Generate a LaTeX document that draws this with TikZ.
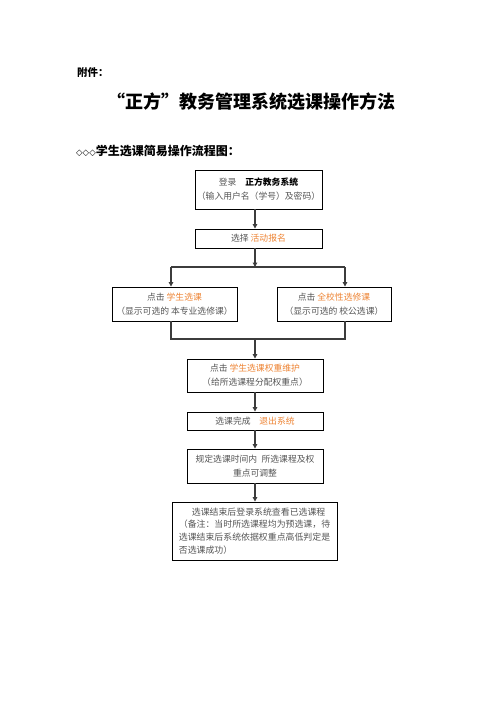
\documentclass[tikz,border=0pt]{standalone}
\usepackage{fontspec}
\setmainfont{Noto Sans CJK SC}
\newfontfamily\dv{DejaVu Sans}
\usetikzlibrary{arrows.meta}
\definecolor{txt}{RGB}{85,85,85}
\definecolor{hl}{RGB}{238,132,52}
\definecolor{ln}{RGB}{60,60,60}
\newcommand{\hlt}[1]{\textcolor{hl}{#1}}
\tikzset{
  box/.style={draw=black, line width=0.9pt, inner sep=0pt, align=center, text=txt,
    font=\fontsize{8.8}{14}\selectfont},
  arr/.style={draw=ln, line width=1.1pt, -{Triangle[length=4.5pt,width=4.5pt]}},
  conn/.style={draw=ln, line width=1.1pt},
}
\begin{document}
\begin{tikzpicture}[x=1pt,y=-1pt]
\useasboundingbox[fill=white] (0,0) rectangle (496,702);
% headings
\node[anchor=west, inner sep=0pt, font=\fontsize{10.5}{12}\selectfont\bfseries] (fj) at (77,73) {附件：};
\node[inner sep=0pt, font=\fontsize{18}{20}\selectfont\bfseries] (title) at (251,102) {“正方”教务管理系统选课操作方法};
\node[anchor=west, inner sep=0pt, font=\fontsize{12}{14}\selectfont\bfseries] (hd) at (76,151) {{\dv\fontsize{8.5}{10}\selectfont ◇◇◇}学生选课简易操作流程图：};
% boxes
\node[box, minimum width=127, minimum height=39] (b1) at (258.5,189.5) {登录\quad\textcolor{black}{\bfseries 正方教务系统}\\（输入用户名（学号）及密码）};
\node[box, minimum width=127, minimum height=19] (b2) at (258.5,238.5) {选择 \hlt{活动报名}};
\node[box, minimum width=125, minimum height=34] (b3) at (174.5,304) {点击 \hlt{学生选课}\\（显示可选的 本专业选修课）};
\node[box, minimum width=114, minimum height=34] (b3r) at (334,304) {点击 \hlt{全校性选修课}\\（显示可选的 校公选课）};
\node[box, minimum width=136, minimum height=33] (b4) at (255,375.5) {点击 \hlt{学生选课权重维护}\\（给所选课程分配权重点）};
\node[box, minimum width=136, minimum height=18] (b5) at (255,421) {选课完成\quad\hlt{退出系统}};
\node[box, minimum width=136, minimum height=34] (b6) at (255,466) {规定选课时间内\enspace 所选课程及权\\重点可调整};
\node[box, minimum width=165, minimum height=58, align=left, font=\fontsize{8.9}{12.7}\selectfont] (b7) at (254.5,531) {\hspace{13pt}选课结束后登录系统查看已选课程\\（备注：当时所选课程均为预选课，待\\选课结束后系统依据权重点高低判定是\\否选课成功）};
% coordinates
\coordinate (mx) at (255,0);
\coordinate (jl) at (171,267);
\coordinate (jr) at (345,267);
\coordinate (jc) at (255,267);
\coordinate (kl) at (171,339);
\coordinate (kr) at (345,339);
\coordinate (kc) at (255,339);
% connectors
\draw[arr] (b1.south -| mx) -- (b2.north -| mx);
\draw[arr] (b2.south -| mx) -- (jc);
\draw[conn] (jl) -- (jr);
\draw[arr] (jl) -- (b3.north -| jl);
\draw[arr] (jr) -- (b3r.north -| jr);
\draw[conn] (b3.south -| kl) -- (kl) -- (kr) -- (b3r.south -| kr);
\draw[arr] (kc) -- (b4.north -| kc);
\draw[arr] (b4.south -| mx) -- (b5.north -| mx);
\draw[arr] (b5.south -| mx) -- (b6.north -| mx);
\draw[arr] (b6.south -| mx) -- (b7.north -| mx);
\end{tikzpicture}
\end{document}
